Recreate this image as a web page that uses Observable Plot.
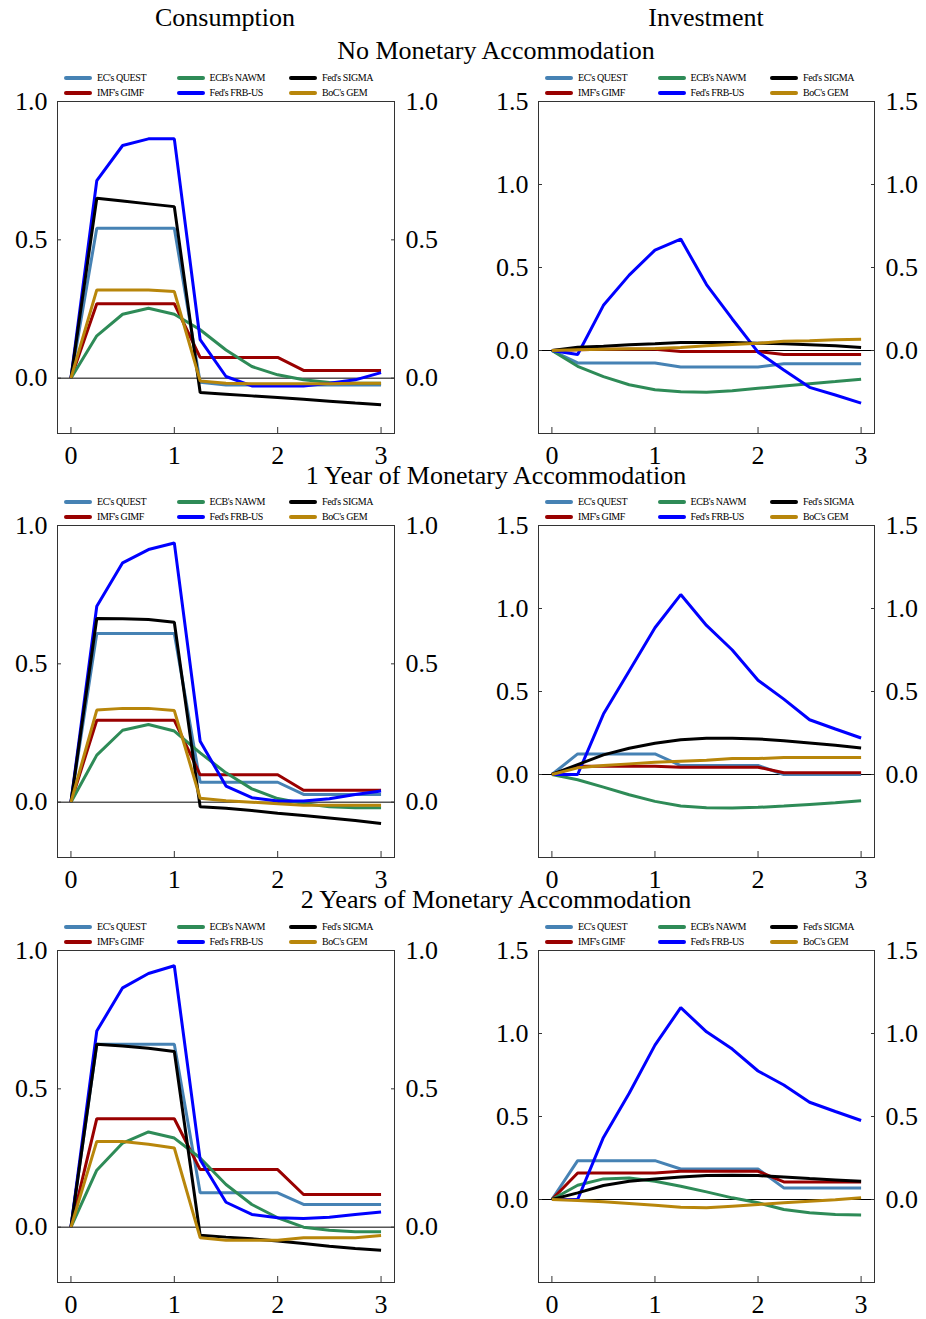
<!DOCTYPE html>
<html>
<head>
<meta charset="utf-8">
<script src="https://cdn.jsdelivr.net/npm/d3@7"></script>
<script src="https://cdn.jsdelivr.net/npm/@observablehq/plot@0.6"></script>
<style>
  html, body { margin: 0; padding: 0; background: #fff; }
  #root { position: relative; width: 926px; height: 1319px; background: #fff; font-family: "Liberation Serif", "DejaVu Serif", serif; color: #000; overflow: hidden; }
  .title { position: absolute; font-size: 26px; line-height: 1; white-space: nowrap; transform: translateX(-50%); }
  .panel { position: absolute; }
  .leg { position: absolute; font-size: 10px; line-height: 1; white-space: nowrap; letter-spacing: -0.4px; z-index: 5; }
  .leg .sw { position: absolute; left: 0; top: -2px; width: 28px; height: 4px; border-radius: 2px; }
  .leg .tx { position: absolute; left: 33px; top: -5px; }
</style>
</head>
<body>
<div id="root"></div>
<script>
// ---------- data ----------
const quarters = [0, 0.25, 0.5, 0.75, 1, 1.25, 1.5, 1.75, 2, 2.25, 2.5, 2.75, 3];
const models = ["EC's QUEST", "IMF's GIMF", "ECB's NAWM", "Fed's FRB-US", "Fed's SIGMA", "BoC's GEM"];
const modelColors = ["#4682B4", "#990000", "#2E8B57", "#0000FF", "#000000", "#B8860B"];
const legendOrder = ["EC's QUEST", "ECB's NAWM", "Fed's SIGMA", "IMF's GIMF", "Fed's FRB-US", "BoC's GEM"];
const columnTitles = ["Consumption", "Investment"];
const rowTitles = ["No Monetary Accommodation", "1 Year of Monetary Accommodation", "2 Years of Monetary Accommodation"];
const consTicks = [0, 0.5, 1.0];
const invTicks = [0, 0.5, 1.0, 1.5];
const xTicks = [0, 1, 2, 3];

// series order: QUEST, GIMF, NAWM, FRB-US, SIGMA, GEM
const consNone = [
  [0, 0.542, 0.542, 0.542, 0.542, -0.015, -0.025, -0.025, -0.025, -0.025, -0.025, -0.025, -0.025],
  [0, 0.269, 0.269, 0.269, 0.269, 0.075, 0.075, 0.075, 0.075, 0.028, 0.028, 0.028, 0.028],
  [0, 0.153, 0.231, 0.253, 0.231, 0.175, 0.102, 0.042, 0.012, -0.006, -0.016, -0.018, -0.018],
  [0, 0.714, 0.841, 0.865, 0.865, 0.139, 0.006, -0.028, -0.028, -0.028, -0.018, -0.006, 0.02],
  [0, 0.65, 0.64, 0.63, 0.62, -0.052, -0.058, -0.064, -0.07, -0.076, -0.083, -0.09, -0.096],
  [0, 0.319, 0.319, 0.319, 0.313, -0.01, -0.018, -0.02, -0.02, -0.02, -0.02, -0.018, -0.018]
];
const invNone = [
  [0, -0.075, -0.075, -0.075, -0.075, -0.1, -0.1, -0.1, -0.1, -0.08, -0.08, -0.08, -0.08],
  [0, 0.005, 0.008, 0.008, 0.008, -0.006, -0.006, -0.006, -0.006, -0.024, -0.024, -0.024, -0.024],
  [0, -0.095, -0.157, -0.206, -0.236, -0.248, -0.252, -0.242, -0.228, -0.214, -0.2, -0.187, -0.173],
  [0, -0.024, 0.272, 0.454, 0.605, 0.671, 0.397, 0.19, -0.01, -0.117, -0.222, -0.268, -0.317],
  [0, 0.02, 0.026, 0.034, 0.04, 0.048, 0.048, 0.048, 0.044, 0.04, 0.035, 0.028, 0.018],
  [0, 0.005, 0.008, 0.01, 0.012, 0.018, 0.028, 0.036, 0.044, 0.055, 0.058, 0.065, 0.068]
];
const consOne = [
  [0, 0.61, 0.61, 0.61, 0.61, 0.072, 0.072, 0.072, 0.072, 0.028, 0.028, 0.028, 0.028],
  [0, 0.296, 0.296, 0.296, 0.296, 0.099, 0.099, 0.099, 0.099, 0.043, 0.043, 0.043, 0.043],
  [0, 0.17, 0.26, 0.281, 0.257, 0.178, 0.106, 0.048, 0.013, -0.005, -0.017, -0.02, -0.02],
  [0, 0.708, 0.865, 0.913, 0.937, 0.22, 0.058, 0.016, 0.004, 0.004, 0.012, 0.028, 0.04],
  [0, 0.664, 0.663, 0.66, 0.65, -0.017, -0.022, -0.03, -0.04, -0.048, -0.057, -0.066, -0.077],
  [0, 0.333, 0.339, 0.339, 0.331, 0.014, 0.005, 0, -0.006, -0.011, -0.011, -0.011, -0.011]
];
const invOne = [
  [0, 0.124, 0.124, 0.124, 0.124, 0.054, 0.054, 0.054, 0.054, 0, 0, 0, 0],
  [0, 0.05, 0.05, 0.05, 0.05, 0.044, 0.044, 0.044, 0.044, 0.01, 0.01, 0.01, 0.01],
  [0, -0.032, -0.076, -0.122, -0.162, -0.19, -0.2, -0.202, -0.198, -0.19, -0.18, -0.17, -0.158],
  [0, 0, 0.364, 0.624, 0.884, 1.084, 0.898, 0.75, 0.568, 0.454, 0.33, 0.274, 0.22],
  [0, 0.06, 0.118, 0.158, 0.188, 0.21, 0.218, 0.218, 0.214, 0.204, 0.19, 0.176, 0.16],
  [0, 0.04, 0.054, 0.064, 0.074, 0.08, 0.086, 0.096, 0.096, 0.102, 0.102, 0.102, 0.102]
];
const consTwo = [
  [0, 0.661, 0.661, 0.661, 0.661, 0.124, 0.124, 0.124, 0.124, 0.082, 0.082, 0.082, 0.082],
  [0, 0.392, 0.392, 0.392, 0.392, 0.208, 0.208, 0.208, 0.208, 0.118, 0.118, 0.118, 0.118],
  [0, 0.206, 0.304, 0.344, 0.322, 0.25, 0.154, 0.082, 0.034, 0, -0.011, -0.017, -0.017],
  [0, 0.709, 0.865, 0.917, 0.945, 0.244, 0.09, 0.046, 0.034, 0.031, 0.036, 0.046, 0.055],
  [0, 0.661, 0.655, 0.647, 0.635, -0.029, -0.036, -0.042, -0.05, -0.059, -0.069, -0.077, -0.083],
  [0, 0.31, 0.31, 0.3, 0.286, -0.038, -0.047, -0.047, -0.047, -0.038, -0.038, -0.038, -0.03]
];
const invTwo = [
  [0, 0.234, 0.234, 0.234, 0.234, 0.184, 0.184, 0.184, 0.184, 0.07, 0.07, 0.07, 0.07],
  [0, 0.16, 0.16, 0.16, 0.16, 0.17, 0.17, 0.17, 0.17, 0.106, 0.106, 0.106, 0.106],
  [0, 0.086, 0.124, 0.13, 0.11, 0.08, 0.046, 0.01, -0.02, -0.06, -0.08, -0.09, -0.094],
  [0, 0, 0.374, 0.64, 0.93, 1.156, 1.01, 0.906, 0.774, 0.69, 0.586, 0.53, 0.476],
  [0, 0.04, 0.084, 0.11, 0.124, 0.136, 0.144, 0.146, 0.144, 0.136, 0.126, 0.118, 0.11],
  [0, -0.006, -0.014, -0.024, -0.034, -0.046, -0.05, -0.04, -0.03, -0.02, -0.01, -0.002, 0.01]
];

// ---------- layout ----------
const root = document.getElementById("root");
const frameTops = [101, 525, 950];
const frameH = 332;
const mt = 24, mb = 44;
const colLayout = [
  {left: 0, width: 463, ml: 57, mr: 69, domain: [-0.2, 1.0], ticks: consTicks, center: 225},
  {left: 463, width: 463, ml: 75, mr: 52, domain: [-0.5, 1.5], ticks: invTicks, center: 706}
];
const grid = [[consNone, invNone], [consOne, invOne], [consTwo, invTwo]];

function addText(cls, txt, x, y) {
  const d = document.createElement("div");
  d.className = cls;
  d.textContent = txt;
  d.style.left = x + "px";
  d.style.top = y + "px";
  root.appendChild(d);
  return d;
}

addText("title", columnTitles[0], colLayout[0].center, 5);
addText("title", columnTitles[1], colLayout[1].center, 5);
const rowTitleTops = [38, 463, 887];
rowTitles.forEach((t, i) => addText("title", t, 496, rowTitleTops[i]));

function makePanel(series, c, r) {
  const L = colLayout[c];
  const rows = [];
  series.forEach((vals, mi) => vals.forEach((v, qi) => rows.push({model: models[mi], q: quarters[qi], v})));
  const chart = Plot.plot({
    width: L.width,
    height: frameH + mt + mb,
    marginTop: mt, marginBottom: mb, marginLeft: L.ml, marginRight: L.mr,
    x: {domain: [-0.13, 3.13]},
    y: {domain: L.domain},
    color: {domain: models, range: modelColors},
    style: {fontFamily: "Liberation Serif, serif", fontSize: "26px", background: "transparent", overflow: "visible"},
    marks: [
      Plot.ruleY([0], {stroke: "#000", strokeWidth: 1}),
      Plot.line(rows, {x: "q", y: "v", z: "model", stroke: "model", strokeWidth: 3, strokeLinejoin: "miter", strokeLinecap: "butt"}),
      Plot.frame({stroke: "#333", strokeWidth: 1}),
      Plot.axisX({ticks: xTicks, tickFormat: d => String(d), tickSize: -6, tickPadding: 18, label: null, fontSize: 26, stroke: "#333"}),
      Plot.axisY({anchor: "left", ticks: L.ticks, tickFormat: d3.format(".1f"), tickSize: -4, tickPadding: 14, label: null, fontSize: 26, stroke: "#333"}),
      Plot.axisY({anchor: "right", ticks: L.ticks, tickFormat: d3.format(".1f"), tickSize: -4, tickPadding: 15, label: null, fontSize: 26, stroke: "#333"})
    ]
  });
  const wrap = document.createElement("div");
  wrap.className = "panel";
  wrap.style.left = L.left + "px";
  wrap.style.top = (frameTops[r] - mt) + "px";
  wrap.appendChild(chart);
  root.appendChild(wrap);

  // legend above panel
  const frameLeft = L.left + L.ml;
  const legY = [frameTops[r] - 23, frameTops[r] - 8];
  legendOrder.forEach((m, i) => {
    const col = i % 3, row = Math.floor(i / 3);
    const item = document.createElement("div");
    item.className = "leg";
    item.style.left = (frameLeft + 7 + col * 112.5) + "px";
    item.style.top = legY[row] + "px";
    const sw = document.createElement("span");
    sw.className = "sw";
    sw.style.background = modelColors[models.indexOf(m)];
    const tx = document.createElement("span");
    tx.className = "tx";
    tx.textContent = m;
    item.appendChild(sw);
    item.appendChild(tx);
    root.appendChild(item);
  });
}

grid.forEach((rowSeries, r) => rowSeries.forEach((s, c) => makePanel(s, c, r)));
</script>
</body>
</html>
